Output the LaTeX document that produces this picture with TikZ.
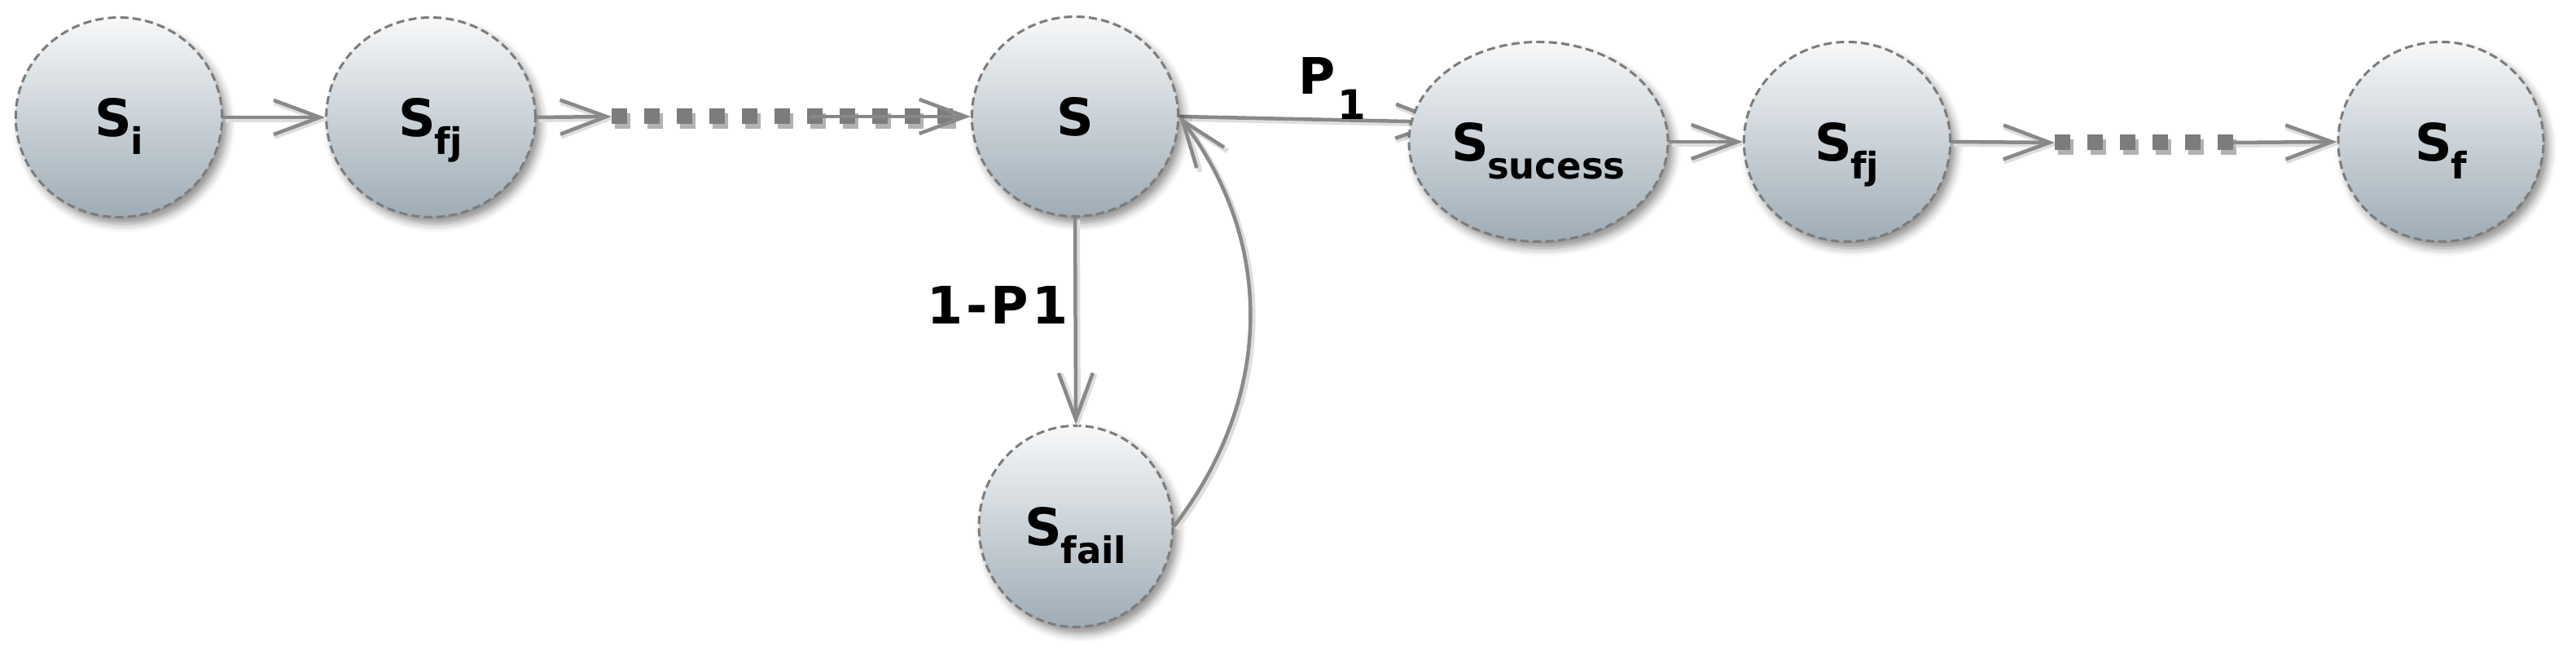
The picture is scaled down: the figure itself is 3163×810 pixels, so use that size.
\documentclass[tikz,border=0pt]{standalone}
\usepackage{fontspec}
\setmainfont{DejaVu Sans}
\usetikzlibrary{shapes.geometric,arrows.meta,shadows.blur,backgrounds}
\definecolor{ntop}{HTML}{F7F8F9}
\definecolor{nbot}{HTML}{9EACB6}
\definecolor{edgegray}{HTML}{898989}
\definecolor{bordergray}{HTML}{7C7C7C}
\newcommand{\stlabel}[1]{{\fontsize{19}{19}\selectfont S}\kern-0.6pt\raisebox{-6.8pt}[0pt][0pt]{\fontsize{13.5}{13.5}\selectfont #1}}
\begin{document}
\begin{tikzpicture}[x=0.3pt,y=-0.3pt,
  stnode/.style={ellipse, draw=bordergray, line width=0.9pt, dash pattern=on 3pt off 1.6pt,
    top color=ntop, bottom color=nbot, inner sep=0pt,
    minimum width=76pt, minimum height=73.5pt, font=\bfseries,
    blur shadow={shadow xshift=1.8pt, shadow yshift=-2.4pt, shadow blur radius=3pt, shadow opacity=45}},
  connplain/.style={draw=edgegray, line width=1.35pt, -{Straight Barb[length=17pt,width=12.6pt]}},
  conn/.style={connplain,
    preaction={draw=black!13, line width=1.8pt, transform canvas={shift={(0.9pt,-0.9pt)}}}},
  dotline/.style={draw=bordergray, line width=5.7pt, dash pattern=on 5.7pt off 6.3pt},
  dotshadow/.style={draw=black, opacity=0.3, line width=5.7pt, dash pattern=on 5.7pt off 6.3pt},
  lbl/.style={font=\bfseries, inner sep=0pt}
]
\useasboundingbox (0,0) rectangle (3163,810);

% states
\node[stnode] (si) at (146,144) {\stlabel{i}};
\node[stnode, minimum width=77pt] (sfj1) at (529,144) {\stlabel{fj}};
\node[stnode] (s) at (1320,143) {{\fontsize{19}{19}\selectfont S}};
\node[stnode, minimum width=71.4pt, minimum height=74.1pt] (sfail) at (1321,646) {\stlabel{fail}};
\node[stnode, minimum width=95.4pt] (ssuc) at (1889,174) {\stlabel{sucess}};
\node[stnode] (sfj2) at (2268,174) {\stlabel{fj}};
\node[stnode, minimum width=75.6pt] (sf) at (2997,174) {\stlabel{f}};

% free ends of the dotted parts
\coordinate (d1a) at (751,143);
\coordinate (d1b) at (1170,143);
\coordinate (l1) at (996,143);
\coordinate (d2a) at (2523,175);
\coordinate (d2b) at (2742,175);

% connectors
\draw[conn] (si.east) -- (sfj1.west);
\draw[conn] (sfj1.east) -- (d1a);
\draw[dotshadow] ([shift={(4,6)}]d1a) -- ([shift={(4,6)}]d1b);
\draw[dotline] (d1a) -- (d1b);
\draw[connplain] (l1) -- (s.west);

\begin{scope}[on background layer]
\draw[conn, shorten >=-13.5pt] (s.east) -- (ssuc.171);
\end{scope}

\draw[conn] (s.south) -- (sfail.north);
\draw[conn] (sfail.east) .. controls (1561,491) and (1568,302) .. (s.east);

\draw[conn] (ssuc.east) -- (sfj2.west);
\draw[conn] (sfj2.east) -- (d2a);
\draw[dotshadow] ([shift={(4,6)}]d2a) -- ([shift={(4,6)}]d2b);
\draw[dotline] (d2a) -- (d2b);
\draw[conn] (d2b) -- (sf.west);

% labels
\node[lbl, anchor=base west] (p1) at (1594,116) {\fontsize{18.5}{18.5}\selectfont P\kern0.8pt\raisebox{-9.3pt}{\fontsize{15}{15}\selectfont 1}};
\node[lbl, anchor=base] (q1) at (1225,398) {\fontsize{19}{19}\selectfont 1\kern1.2pt-\kern1.2pt P\kern1.2pt 1};
\end{tikzpicture}
\end{document}
